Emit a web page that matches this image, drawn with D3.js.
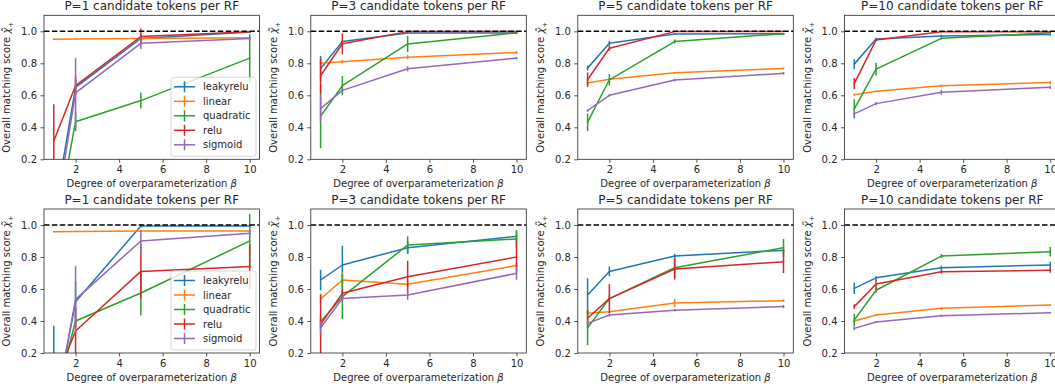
<!DOCTYPE html>
<html>
<head>
<meta charset="utf-8">
<script src="https://cdn.jsdelivr.net/npm/d3@7"></script>
<style>
  html, body { margin: 0; padding: 0; background: #fff; }
  svg { display: block; font-family: "DejaVu Sans", sans-serif; }
</style>
</head>
<body>
<svg id="chart" width="1055" height="387"></svg>
<script>
// ---------- data ----------
const betas = [1, 2, 5, 10];
const seriesNames = ["leakyrelu", "linear", "quadratic", "relu", "sigmoid"];
const seriesColors = ["#1f77b4", "#ff7f0e", "#2ca02c", "#d62728", "#9467bd"];
const panelTitles = ["P=1 candidate tokens per RF", "P=3 candidate tokens per RF",
                     "P=5 candidate tokens per RF", "P=10 candidate tokens per RF"];
const xTickValues = [2, 4, 6, 8, 10];
const yTickValues = [0.2, 0.4, 0.6, 0.8, 1.0];
const xLabel = "Degree of overparameterization ";
const yLabel = "Overall matching score ";

// rows = series (leakyrelu, linear, quadratic, relu, sigmoid), cols = beta 1,2,5,10
const meanTopP1 = [[-0.15, 0.65, 0.955, 0.995], [0.95, 0.952, 0.955, 0.96], [-0.30, 0.435, 0.567, 0.832], [0.314, 0.66, 0.967, 0.997], [-0.22, 0.615, 0.925, 0.955]];
const errTopP1  = [[0.30, 0.05, 0.03, 0.005], [0.005, 0.003, 0.003, 0.005], [0.30, 0.06, 0.05, 0.15], [0.23, 0.06, 0.05, 0.005], [0.30, 0.22, 0.035, 0.01]];
const meanTopP3 = [[0.766, 0.936, 0.99, 0.99], [0.80, 0.81, 0.838, 0.867], [0.469, 0.66, 0.921, 0.99], [0.722, 0.922, 0.998, 0.998], [0.517, 0.631, 0.766, 0.832]];
const errTopP3  = [[0.08, 0.01, 0.005, 0.005], [0.01, 0.01, 0.012, 0.008], [0.20, 0.06, 0.05, 0.005], [0.11, 0.065, 0.003, 0.003], [0.085, 0.012, 0.015, 0.008]];
const meanTopP5 = [[0.77, 0.925, 0.983, 0.985], [0.677, 0.70, 0.741, 0.768], [0.432, 0.697, 0.936, 0.985], [0.697, 0.894, 0.998, 0.998], [0.505, 0.60, 0.695, 0.737]];
const errTopP5  = [[0.015, 0.015, 0.005, 0.005], [0.015, 0.008, 0.005, 0.005], [0.055, 0.035, 0.012, 0.005], [0.045, 0.015, 0.003, 0.003], [0.008, 0.008, 0.008, 0.008]];
const meanTopP10 = [[0.795, 0.952, 0.971, 0.98], [0.604, 0.625, 0.66, 0.68], [0.515, 0.764, 0.956, 0.99], [0.673, 0.946, 0.997, 0.997], [0.484, 0.548, 0.619, 0.65]];
const errTopP10  = [[0.03, 0.008, 0.008, 0.005], [0.005, 0.005, 0.008, 0.01], [0.06, 0.04, 0.008, 0.005], [0.035, 0.008, 0.003, 0.003], [0.015, 0.01, 0.015, 0.01]];

const meanBotP1 = [[-0.20, 0.52, 0.994, 0.994], [0.958, 0.96, 0.962, 0.962], [-0.13, 0.40, 0.575, 0.90], [0.0, 0.3375, 0.71, 0.74], [-0.21, 0.535, 0.90, 0.948]];
const errBotP1  = [[0.57, 0.13, 0.01, 0.01], [0.004, 0.004, 0.004, 0.004], [0.30, 0.04, 0.14, 0.17], [0.20, 0.15, 0.17, 0.14], [0.30, 0.21, 0.07, 0.02]];
const meanBotP3 = [[0.656, 0.75, 0.858, 0.929], [0.5375, 0.656, 0.629, 0.746], [0.396, 0.552, 0.875, 0.9125], [0.379, 0.573, 0.677, 0.80], [0.358, 0.54, 0.5625, 0.698]];
const errBotP3  = [[0.065, 0.12, 0.04, 0.035], [0.035, 0.05, 0.02, 0.02], [0.04, 0.14, 0.055, 0.055], [0.185, 0.03, 0.10, 0.10], [0.04, 0.02, 0.03, 0.04]];
const meanBotP5 = [[0.5625, 0.71, 0.806, 0.842], [0.448, 0.458, 0.5125, 0.527], [0.358, 0.54, 0.733, 0.858], [0.417, 0.54, 0.725, 0.77], [0.385, 0.4375, 0.467, 0.49]];
const errBotP5  = [[0.105, 0.03, 0.015, 0.01], [0.01, 0.008, 0.025, 0.008], [0.11, 0.02, 0.065, 0.055], [0.05, 0.09, 0.065, 0.07], [0.015, 0.01, 0.008, 0.01]];
const meanBotP10 = [[0.604, 0.67, 0.733, 0.75], [0.40, 0.4375, 0.479, 0.50], [0.406, 0.592, 0.806, 0.833], [0.49, 0.631, 0.708, 0.717], [0.354, 0.394, 0.433, 0.452]];
const errBotP10  = [[0.035, 0.01, 0.012, 0.02], [0.008, 0.005, 0.008, 0.005], [0.04, 0.015, 0.012, 0.03], [0.015, 0.03, 0.012, 0.015], [0.012, 0.005, 0.008, 0.005]];

const rows = [
  {means: [meanTopP1, meanTopP3, meanTopP5, meanTopP10], errs: [errTopP1, errTopP3, errTopP5, errTopP10]},
  {means: [meanBotP1, meanBotP3, meanBotP5, meanBotP10], errs: [errBotP1, errBotP3, errBotP5, errBotP10]}
];

// ---------- layout ----------
const panelLefts = [44, 310.8, 577.8, 844.5];
const panelWidth = 215.5;
const rowTops = [15.3, 209];
const panelHeight = 144;
const textColor = "#262626";

const svg = d3.select("#chart");
const defs = svg.append("defs");

rows.forEach((row, ri) => {
  panelLefts.forEach((left, pi) => {
    const top = rowTops[ri];
    const x = d3.scaleLinear().domain([0.55, 10.45]).range([0, panelWidth]);
    const y = d3.scaleLinear().domain([0.2, 1.1]).range([panelHeight, 0]);
    const g = svg.append("g").attr("transform", `translate(${left},${top})`);
    const clipId = `clip-${ri}-${pi}`;
    defs.append("clipPath").attr("id", clipId)
      .append("rect").attr("width", panelWidth).attr("height", panelHeight);

    const plot = g.append("g").attr("clip-path", `url(#${clipId})`);
    const means = row.means[pi], errs = row.errs[pi];
    const line = d3.line().x(d => x(d[0])).y(d => y(d[1]));

    seriesNames.forEach((name, si) => {
      const pts = betas.map((b, k) => [b, means[si][k], errs[si][k]]);
      plot.append("path").datum(pts)
        .attr("d", line).attr("fill", "none")
        .attr("stroke", seriesColors[si]).attr("stroke-width", 1.5)
        .attr("stroke-linejoin", "round").attr("stroke-linecap", "square");
      plot.selectAll(null).data(pts).enter().append("line")
        .attr("x1", d => x(d[0])).attr("x2", d => x(d[0]))
        .attr("y1", d => y(d[1] - d[2])).attr("y2", d => y(d[1] + d[2]))
        .attr("stroke", seriesColors[si]).attr("stroke-width", 1.5);
    });

    // dashed reference line at 1.0
    plot.append("line")
      .attr("x1", 0).attr("x2", panelWidth)
      .attr("y1", y(1.0)).attr("y2", y(1.0))
      .attr("stroke", "#000").attr("stroke-width", 1.5)
      .attr("stroke-dasharray", "5.5,2.4");

    // axes
    const xAxis = d3.axisBottom(x).tickValues(xTickValues).tickSize(3.5).tickPadding(3.5)
      .tickFormat(d3.format("d"));
    const yAxis = d3.axisLeft(y).tickValues(yTickValues).tickSize(3.5).tickPadding(3.5)
      .tickFormat(d3.format(".1f"));
    const gx = g.append("g").attr("transform", `translate(0,${panelHeight})`).call(xAxis);
    const gy = g.append("g").call(yAxis);
    [gx, gy].forEach(a => {
      a.select(".domain").remove();
      a.selectAll(".tick line").attr("stroke", textColor).attr("stroke-width", 0.8);
      a.selectAll(".tick text").attr("fill", textColor)
        .style("font-family", "DejaVu Sans").style("font-size", "10px");
    });

    // frame
    g.append("rect").attr("width", panelWidth).attr("height", panelHeight)
      .attr("fill", "none").attr("stroke", textColor).attr("stroke-width", 0.8);

    // title
    g.append("text").attr("x", panelWidth / 2).attr("y", -5.2)
      .attr("text-anchor", "middle").attr("fill", textColor)
      .style("font-size", "12px").text(panelTitles[pi]);

    // x label
    const xl = g.append("text").attr("x", panelWidth / 2).attr("y", panelHeight + 28)
      .attr("text-anchor", "middle").attr("fill", textColor).style("font-size", "10px");
    xl.append("tspan").text(xLabel);
    xl.append("tspan").style("font-style", "italic").text("β");

    // y label
    const yl = g.append("text")
      .attr("transform", `translate(${-34},${panelHeight / 2}) rotate(-90)`)
      .attr("text-anchor", "middle").attr("fill", textColor).style("font-size", "10px");
    yl.append("tspan").text(yLabel);
    yl.append("tspan").style("font-style", "italic").text("χ\u0303");
    yl.append("tspan").attr("dy", 3).style("font-size", "7px").text("+");

    // legend in first column
    if (pi === 0) {
      const lw = 85, lh = 79;
      const lg = g.append("g").attr("transform", `translate(${panelWidth - 3.5 - lw},${panelHeight - 3 - lh})`);
      lg.append("rect").attr("width", lw).attr("height", lh).attr("rx", 2.5)
        .attr("fill", "#fff").attr("fill-opacity", 0.8)
        .attr("stroke", "#cccccc").attr("stroke-width", 0.8);
      seriesNames.forEach((name, si) => {
        const cy = 9.5 + si * 14.5;
        lg.append("line").attr("x1", 3).attr("x2", 24).attr("y1", cy).attr("y2", cy)
          .attr("stroke", seriesColors[si]).attr("stroke-width", 1.5);
        lg.append("line").attr("x1", 13.5).attr("x2", 13.5).attr("y1", cy - 5.5).attr("y2", cy + 5.5)
          .attr("stroke", seriesColors[si]).attr("stroke-width", 1.5);
        lg.append("text").attr("x", 32).attr("y", cy + 3.6).attr("fill", textColor)
          .style("font-size", "10px").text(name);
      });
    }
  });
});
</script>
</body>
</html>
